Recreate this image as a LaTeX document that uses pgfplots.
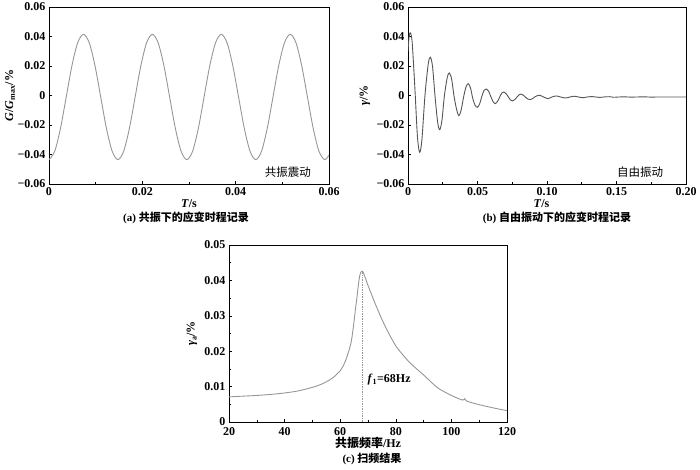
\documentclass[border=0pt]{standalone}
\usepackage{fontspec}
\setmainfont{Liberation Serif}
\newfontfamily\cjk{Noto Sans CJK SC}
\usepackage{pgfplots}
\pgfplotsset{compat=1.18}

\definecolor{curvegray}{RGB}{150,150,150}
\definecolor{darkcurve}{RGB}{85,85,85}

\pgfplotsset{
  panel/.style={
    scale only axis,
    axis line style={black, line width=0.7pt},
    tick style={black, line width=0.6pt},
    major tick length=3pt,
    minor tick length=2pt,
    tick align=inside,
    xtick pos=bottom,
    ytick pos=left,
    minor x tick num=1,
    scaled ticks=false,
    tick label style={font=\bfseries\fontsize{12}{13}\selectfont},
    label style={font=\bfseries\fontsize{12}{13}\selectfont},
    clip=true,
  },
}

\begin{document}
\begin{tikzpicture}[x=1pt,y=1pt]
\useasboundingbox (0,0) rectangle (700,469);

% (a) resonance record
\begin{axis}[panel,
  at={(49pt,285pt)}, anchor=south west,
  width=280pt, height=177pt,
  xmin=0, xmax=0.06, ymin=-0.06, ymax=0.06,
  xtick={0,0.02,0.04,0.06},
  xticklabels={\textbf{0},\textbf{0.02},\textbf{0.04},\textbf{0.06}},
  ytick={-0.06,-0.04,-0.02,0,0.02,0.04,0.06},
  yticklabels={\textbf{−0.06},\textbf{−0.04},\textbf{−0.02},\textbf{0},\textbf{0.02},\textbf{0.04},\textbf{0.06}},
  xlabel={\textbf{\textit{T}/s}},
  ylabel={\textbf{\textit{G}/\textit{G}\textsubscript{max}/\%}},
  xlabel style={at={(axis description cs:0.5,-0.112)}, anchor=center},
  ylabel style={at={(axis description cs:-0.139,0.5)}, anchor=center},
]
\addplot[curvegray, line width=0.9pt, smooth] coordinates {
(0.00000,-0.0435) (0.00123,-0.0378) (0.00246,-0.0223) (0.00369,-0.0010)
(0.00492,0.0203) (0.00615,0.0358) (0.00738,0.0415) (0.00862,0.0358)
(0.00985,0.0203) (0.01108,-0.0010) (0.01231,-0.0223) (0.01354,-0.0378)
(0.01477,-0.0435) (0.01600,-0.0378) (0.01723,-0.0223) (0.01846,-0.0010)
(0.01969,0.0203) (0.02092,0.0358) (0.02215,0.0415) (0.02338,0.0358)
(0.02462,0.0203) (0.02585,-0.0010) (0.02708,-0.0223) (0.02831,-0.0378)
(0.02954,-0.0435) (0.03077,-0.0378) (0.03200,-0.0223) (0.03323,-0.0010)
(0.03446,0.0203) (0.03569,0.0358) (0.03692,0.0415) (0.03815,0.0358)
(0.03938,0.0203) (0.04062,-0.0010) (0.04185,-0.0223) (0.04308,-0.0378)
(0.04431,-0.0435) (0.04554,-0.0378) (0.04677,-0.0223) (0.04800,-0.0010)
(0.04923,0.0203) (0.05046,0.0358) (0.05169,0.0415) (0.05292,0.0358)
(0.05415,0.0203) (0.05538,-0.0010) (0.05662,-0.0223) (0.05785,-0.0378)
(0.05908,-0.0435) (0.06000,-0.0403)
};
\node[font=\cjk\fontsize{11.5}{13}\selectfont] at (axis cs:0.0512,-0.0519) {共振震动};
\end{axis}

% (b) free vibration record
\begin{axis}[panel,
  at={(408pt,285pt)}, anchor=south west,
  width=278pt, height=177pt,
  xmin=0, xmax=0.20, ymin=-0.06, ymax=0.06,
  xtick={0,0.05,0.10,0.15,0.20},
  xticklabels={\textbf{0},\textbf{0.05},\textbf{0.10},\textbf{0.15},\textbf{0.20}},
  ytick={-0.06,-0.04,-0.02,0,0.02,0.04,0.06},
  yticklabels={\textbf{−0.06},\textbf{−0.04},\textbf{−0.02},\textbf{0},\textbf{0.02},\textbf{0.04},\textbf{0.06}},
  xlabel={\textbf{\textit{T}/s}},
  ylabel={\textbf{\textit{γ}/\%}},
  xlabel style={at={(axis description cs:0.48,-0.108)}, anchor=center},
  ylabel style={at={(axis description cs:-0.155,0.5)}, anchor=center},
]
\addplot[darkcurve, line width=0.9pt, smooth] coordinates {
(0.0000,0.0300) (0.0008,0.0400) (0.0017,0.0425) (0.0030,0.0360)
(0.0050,0.0040) (0.0068,-0.0280) (0.0084,-0.0385) (0.0100,-0.0300)
(0.0122,0.0000) (0.0145,0.0210) (0.0160,0.0260) (0.0176,0.0200)
(0.0194,0.0000) (0.0213,-0.0180) (0.0228,-0.0232) (0.0244,-0.0170)
(0.0262,0.0000) (0.0282,0.0120) (0.0297,0.0153) (0.0314,0.0110)
(0.0332,-0.0010) (0.0351,-0.0100) (0.0366,-0.0137) (0.0382,-0.0100)
(0.0400,-0.0010) (0.0418,0.0060) (0.0434,0.0080) (0.0450,0.0050)
(0.0466,-0.0020) (0.0482,-0.0065) (0.0498,-0.0080) (0.0514,-0.0060)
(0.0530,-0.0010) (0.0547,0.0035) (0.0563,0.0044) (0.0579,0.0030)
(0.0595,-0.0005) (0.0612,-0.0042) (0.0628,-0.0055) (0.0644,-0.0040)
(0.0659,-0.0012) (0.0675,0.0017) (0.0690,0.0024) (0.0706,0.0012)
(0.0721,-0.0008) (0.0737,-0.0030) (0.0752,-0.0037) (0.0768,-0.0028)
(0.0783,-0.0012) (0.0799,0.0005) (0.0814,0.0010) (0.0830,0.0002)
(0.0846,-0.0012) (0.0862,-0.0024) (0.0879,-0.0028) (0.0895,-0.0022)
(0.0911,-0.0010) (0.0944,0.0002) (0.0975,-0.0010) (0.1006,-0.0021)
(0.1036,-0.0010) (0.1066,-0.0003) (0.1098,-0.0010) (0.1130,-0.0017)
(0.1162,-0.0011) (0.1194,-0.0005) (0.1226,-0.0010) (0.1258,-0.0015)
(0.1290,-0.0010) (0.1320,-0.0007) (0.1350,-0.0010) (0.1380,-0.0013)
(0.1410,-0.0010) (0.1450,-0.0008) (0.1480,-0.0012) (0.1520,-0.0010)
(0.1560,-0.0009) (0.1600,-0.0011) (0.1650,-0.0010) (0.1700,-0.0009)
(0.1750,-0.0011) (0.1800,-0.0010) (0.1900,-0.0010) (0.2000,-0.0010)
};
\node[font=\cjk\fontsize{11.5}{13}\selectfont] at (axis cs:0.1669,-0.0520) {自由振动};
\end{axis}

% (c) frequency sweep
\begin{axis}[panel,
  at={(229pt,47pt)}, anchor=south west,
  width=278pt, height=177pt,
  xmin=20, xmax=120, ymin=0, ymax=0.05,
  minor y tick num=1,
  xtick={20,40,60,80,100,120},
  xticklabels={\textbf{20},\textbf{40},\textbf{60},\textbf{80},\textbf{100},\textbf{120}},
  xticklabel style={yshift=-1.5pt},
  ytick={0,0.01,0.02,0.03,0.04,0.05},
  yticklabels={\textbf{0},\textbf{0.01},\textbf{0.02},\textbf{0.03},\textbf{0.04},\textbf{0.05}},
  xlabel={\textbf{{\cjk\bfseries 共振频率}/Hz}},
  ylabel={\textbf{\textit{γ}\textsubscript{a}/\%}},
  xlabel style={at={(axis description cs:0.5,-0.118)}, anchor=center},
  ylabel style={at={(axis description cs:-0.133,0.5)}, anchor=center},
]
\addplot[curvegray, line width=0.9pt, smooth] coordinates {
(20,0.0071) (25,0.0073) (30,0.0075) (35,0.0078) (40,0.0082) (45,0.0088)
(50,0.0098) (53,0.0106) (56,0.0118) (58,0.0129) (60,0.0145) (61,0.0157)
(62,0.0175) (63,0.0198) (64,0.0228) (64.5,0.0255) (65,0.0285) (65.5,0.0320)
(66,0.0350) (66.5,0.0385) (67,0.0412) (67.5,0.0424) (68,0.0426) (68.3,0.0422)
(69,0.0408) (70,0.0386) (72.5,0.0336) (75,0.0290) (77.5,0.0250) (80,0.0215)
(82.5,0.0190) (85,0.0168) (87.5,0.0150) (90,0.0133) (95,0.0097) (100,0.0075)
(104,0.0062) (104.8,0.0066) (105.5,0.0059) (110,0.0049) (115,0.0040) (120,0.0032)
};
\addplot[curvegray, densely dotted, line width=0.7pt] coordinates {(68,0) (68,0.0426)};
\node[font=\bfseries\fontsize{12}{13}\selectfont] at (axis cs:77.6,0.0119) {\textbf{\textit{f}\textsubscript{1}=68Hz}};
\end{axis}

% captions
\node[font=\bfseries\fontsize{11}{13}\selectfont] at (186,251) {\textbf{(a)} {\cjk\bfseries 共振下的应变时程记录}};
\node[font=\bfseries\fontsize{11}{13}\selectfont] at (557,251) {\textbf{(b)} {\cjk\bfseries 自由振动下的应变时程记录}};
\node[font=\bfseries\fontsize{11}{13}\selectfont] at (372,10) {\textbf{(c)} {\cjk\bfseries 扫频结果}};
\end{tikzpicture}
\end{document}
